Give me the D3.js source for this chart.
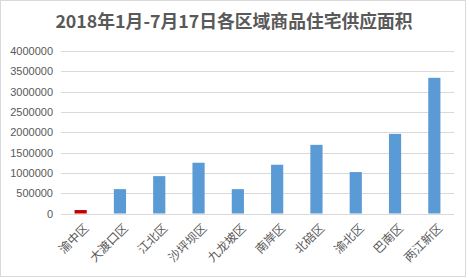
<!DOCTYPE html>
<html><head><meta charset="utf-8">
<script src="https://cdn.jsdelivr.net/npm/d3@7"></script>
<style>
html,body{margin:0;padding:0;background:#fff;}
svg{display:block;}
</style></head>
<body>
<script>
const categories = ["渝中区","大渡口区","江北区","沙坪坝区","九龙坡区","南岸区","北碚区","渝北区","巴南区","两江新区"];
const values = [85000, 600000, 920000, 1250000, 600000, 1200000, 1690000, 1020000, 1960000, 3340000];
const yTicks = [0, 500000, 1000000, 1500000, 2000000, 2500000, 3000000, 3500000, 4000000];
const title = "2018年1月-7月17日各区域商品住宅供应面积";
const highlight = "渝中区";

const W = 469, H = 278;
const svg = d3.select("body").append("svg").attr("width", W).attr("height", H);

svg.append("rect").attr("x",0.5).attr("y",0.5).attr("width",465).attr("height",276)
  .attr("fill","#fff").attr("stroke","#d9d9d9").attr("stroke-width",1);

const x = d3.scaleBand().domain(categories).range([61, 454]).paddingInner(0.69).paddingOuter(0.345);
const y = d3.scaleLinear().domain([0, 4000000]).range([213.5, 51]);

svg.append("text").attr("x", 234).attr("y", 28).attr("text-anchor","middle")
  .attr("font-family","'Noto Sans CJK SC', sans-serif").attr("font-weight","bold")
  .attr("font-size", 17.8).attr("fill","#595959").text(title);

// gridlines
svg.append("g").selectAll("line").data(yTicks).join("line")
  .attr("x1", 61).attr("x2", 454)
  .attr("y1", d => Math.round(y(d)) + 0.5).attr("y2", d => Math.round(y(d)) + 0.5)
  .attr("stroke", "#d9d9d9").attr("stroke-width", 1);

// y labels
svg.append("g").selectAll("text").data(yTicks).join("text")
  .attr("x", 53).attr("y", d => Math.round(y(d)) + 0.5).attr("dy","0.35em")
  .attr("text-anchor","end").attr("font-family","'Liberation Sans', Arial, sans-serif")
  .attr("font-size", 11).attr("fill","#595959").text(d => d);

// bars
svg.append("g").selectAll("rect").data(categories).join("rect")
  .attr("x", d => x(d)).attr("width", x.bandwidth())
  .attr("y", (d,i) => y(values[i])).attr("height", (d,i) => y(0) - y(values[i]))
  .attr("fill", d => d === highlight ? "#C00000" : "#5B9BD5");

// x labels
svg.append("g").selectAll("text").data(categories).join("text")
  .attr("transform", d => `translate(${x(d) + x.bandwidth()/2 + 5},${225}) rotate(-45)`)
  .attr("text-anchor","end").attr("dominant-baseline","central")
  .attr("font-family","'Noto Sans CJK SC', sans-serif")
  .attr("font-size", 12).attr("fill","#595959").text(d => d);
</script>
</body></html>
